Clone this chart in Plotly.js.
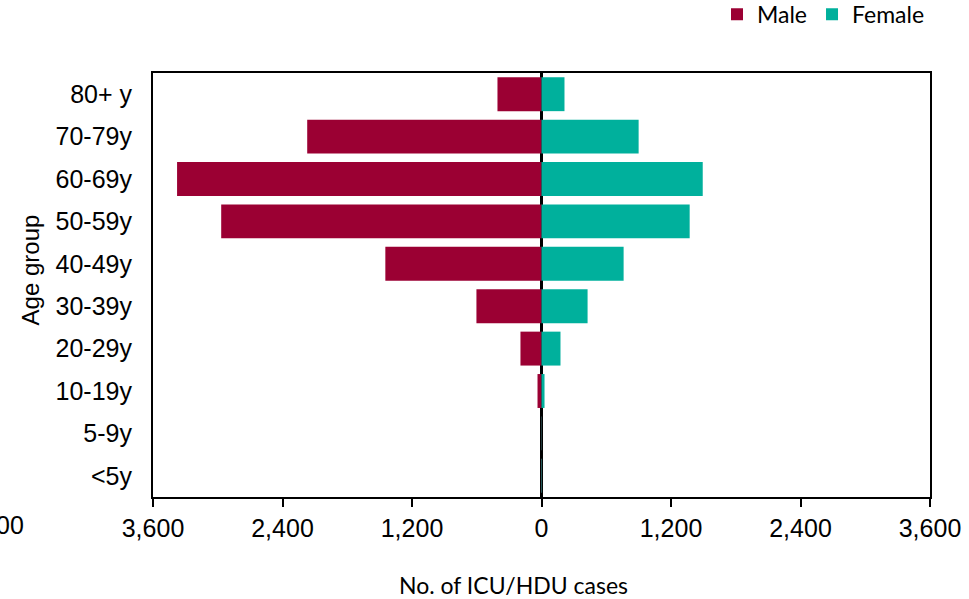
<!DOCTYPE html>
<html>
<head>
<meta charset="utf-8">
<script src="https://cdn.plot.ly/plotly-3.0.1.min.js"></script>
<style>html,body{margin:0;padding:0;background:#fff;}#chart{width:969px;height:599px;}</style>
</head>
<body>
<div id="chart"></div>
<script>
const ageGroups = ["<5y", "5-9y", "10-19y", "20-29y", "30-39y", "40-49y", "50-59y", "60-69y", "70-79y", "80+ y"];
const maleCases = [5, 3, 37, 195, 603, 1447, 2968, 3377, 2171, 408];
const femaleCases = [5, 3, 28, 176, 427, 761, 1373, 1494, 900, 213];
const tickValues = [-3600, -2400, -1200, 0, 1200, 2400, 3600];
const tickLabels = ["3,600", "2,400", "1,200", "0", "1,200", "2,400", "3,600"];
const xTitle = 'No. of ICU/HDU cases';
const yTitle = 'Age group';

const male = {
  type: 'bar', orientation: 'h', name: 'Male',
  y: ageGroups, x: maleCases.map(v => -v),
  customdata: maleCases,
  hovertemplate: '%{y}: %{customdata}<extra>Male</extra>',
  marker: {color: '#9B0033'}, width: 0.8
};
const female = {
  type: 'bar', orientation: 'h', name: 'Female',
  y: ageGroups, x: femaleCases,
  marker: {color: '#00B09C'}, width: 0.8
};

const layout = {
  width: 969, height: 599,
  margin: {l: 153, r: 39, t: 73, b: 102, autoexpand: false},
  paper_bgcolor: '#fff', plot_bgcolor: '#fff',
  barmode: 'relative',
  showlegend: true,
  legend: {orientation: 'h', x: 1.0, xanchor: 'right', y: 1.189, yanchor: 'top',
           font: {family: 'Lato, Open Sans, sans-serif', size: 23, color: '#000'},
           itemwidth: 30, tracegroupgap: 0, traceorder: 'normal'},
  xaxis: {
    range: [-3600, 3600], tickvals: tickValues, ticktext: tickLabels,
    showgrid: false, zeroline: true, zerolinecolor: '#000', zerolinewidth: 3,
    layer: 'above traces',
    showline: true, linecolor: '#000', linewidth: 2, mirror: true,
    ticks: 'outside', ticklen: 8, tickwidth: 2, tickcolor: '#000',
    tickfont: {family: 'Liberation Sans, Arial, sans-serif', size: 25, color: '#000'}
  },
  yaxis: {
    type: 'category', categoryorder: 'array', categoryarray: ageGroups,
    showgrid: false, zeroline: false,
    showline: true, linecolor: '#000', linewidth: 2, mirror: true,
    ticks: '', ticklabelstandoff: 14,
    tickfont: {family: 'Liberation Sans, Arial, sans-serif', size: 25, color: '#000'}
  },
  annotations: [
    {text: xTitle, xref: 'paper', yref: 'paper', x: 0.4646, y: -0.2075,
     xanchor: 'center', yanchor: 'middle', showarrow: false,
     font: {family: 'Lato, Open Sans, sans-serif', size: 23, color: '#000'}},
    {text: yTitle, xref: 'paper', yref: 'paper', x: -0.158, y: 0.535, textangle: -90,
     xanchor: 'center', yanchor: 'middle', showarrow: false,
     font: {family: 'Liberation Sans, Arial, sans-serif', size: 24, color: '#000'}},
    {text: '00', xref: 'paper', yref: 'paper', x: -0.205, y: -0.066,
     xanchor: 'left', yanchor: 'middle', showarrow: false,
     font: {family: 'Liberation Sans, Arial, sans-serif', size: 25, color: '#000'}}
  ]
};

Plotly.newPlot('chart', [male, female], layout, {displayModeBar: false, staticPlot: true});
</script>
</body>
</html>
